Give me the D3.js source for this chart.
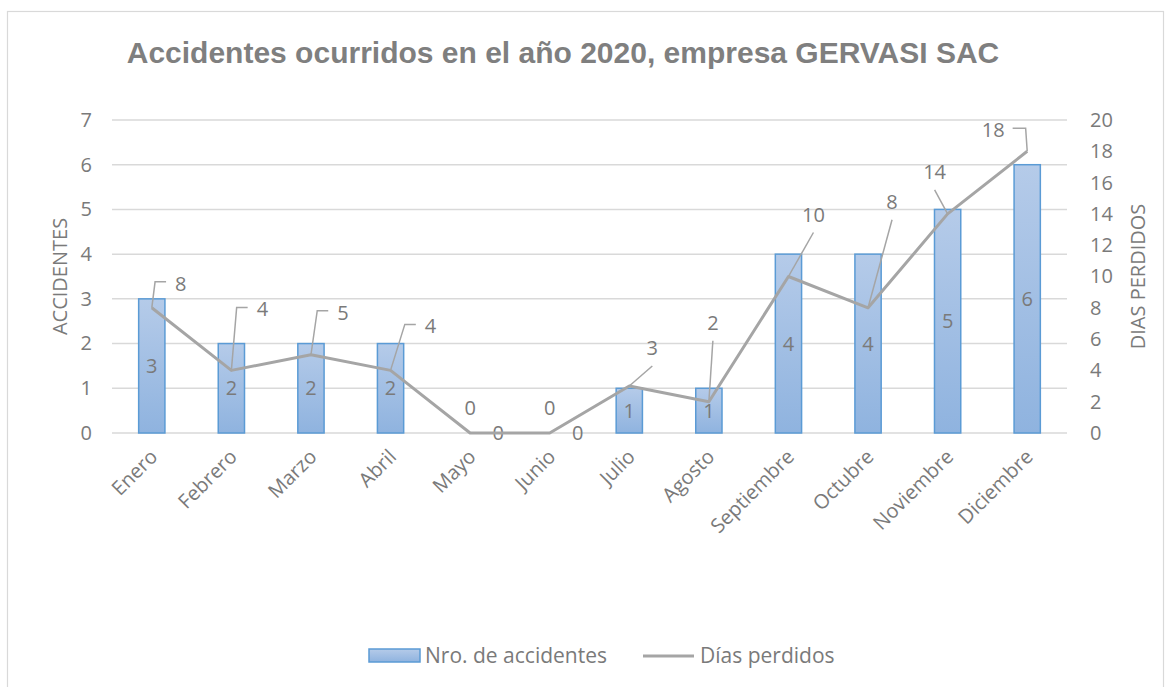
<!DOCTYPE html>
<html>
<head>
<meta charset="utf-8">
<script src="https://cdn.jsdelivr.net/npm/d3@7"></script>
<style>
  html, body { margin: 0; padding: 0; background: #fff; }
  svg { display: block; }
  text { font-family: "Open Sans", "Noto Sans", sans-serif; fill: #7a7a7a; }
</style>
</head>
<body>
<svg id="chart" width="1170" height="687"></svg>
<script>
// Monthly data
const months = ["Enero", "Febrero", "Marzo", "Abril", "Mayo", "Junio", "Julio",
                "Agosto", "Septiembre", "Octubre", "Noviembre", "Diciembre"];
const accidentes = [3, 2, 2, 2, 0, 0, 1, 1, 4, 4, 5, 6];
const diasPerdidos = [8, 4, 5, 4, 0, 0, 3, 2, 10, 8, 14, 18];
const leftTicks = [0, 1, 2, 3, 4, 5, 6, 7];
const rightTicks = [0, 2, 4, 6, 8, 10, 12, 14, 16, 18, 20];

// Data-label placement for the line series (offset from point, leader style)
const diasLabelOffset = [[29, -24], [31, -61], [32, -42], [40, -44], [0, -25], [0, -25],
                         [23, -38], [4, -79], [25, -62], [24, -106], [-13, -42], [-34, -21]];
const diasLeader = ["elbowLeft", "elbowLeft", "elbowLeft", "elbowLeft", "none", "none",
                    "straight", "straight", "straight", "straight", "straight", "elbowRight"];
// Bar labels for zero-height bars sit beside the line label
const barZeroShift = 28;

const FS = "20px";
const svg = d3.select("#chart");
const plot = { left: 112, right: 1067, top: 120, bottom: 433 };

// Chart frame
svg.append("rect")
  .attr("x", 7.5).attr("y", 11.5).attr("width", 1156).attr("height", 690)
  .attr("fill", "#fff").attr("stroke", "#d9d9d9").attr("stroke-width", 1.2);

// Gradient for bars
const defs = svg.append("defs");
const grad = defs.append("linearGradient").attr("id", "barGrad")
  .attr("x1", 0).attr("y1", 0).attr("x2", 0).attr("y2", 1);
grad.append("stop").attr("offset", "0%").attr("stop-color", "#b5cbe9");
grad.append("stop").attr("offset", "100%").attr("stop-color", "#8fb3df");

// Scales
const x = d3.scaleBand().domain(months).range([plot.left, plot.right])
  .paddingInner(0.67).paddingOuter(0.335);
const yL = d3.scaleLinear().domain([0, 7]).range([plot.bottom, plot.top]);
const yR = d3.scaleLinear().domain([0, 20]).range([plot.bottom, plot.top]);
const cx = m => x(m) + x.bandwidth() / 2;

// Title
svg.append("text")
  .attr("x", 563).attr("y", 63)
  .attr("text-anchor", "middle")
  .style("font-family", "'Liberation Sans', Arial, sans-serif")
  .style("font-weight", "bold")
  .style("font-size", "30px")
  .style("fill", "#7f7f7f")
  .text("Accidentes ocurridos en el año 2020, empresa GERVASI SAC");

// Gridlines
svg.append("g").selectAll("line").data(leftTicks).join("line")
  .attr("x1", plot.left).attr("x2", plot.right)
  .attr("y1", d => yL(d)).attr("y2", d => yL(d))
  .attr("stroke", "#d9d9d9").attr("stroke-width", 1.5);

// Left axis
const leftAxis = svg.append("g")
  .attr("transform", `translate(${plot.left - 20},0)`)
  .call(d3.axisLeft(yL).tickValues(leftTicks).tickSize(0).tickPadding(0).tickFormat(d3.format("d")));
leftAxis.select(".domain").remove();
leftAxis.selectAll("text").style("font-size", FS).style("fill", "#7a7a7a")
  .style("font-family", "'Open Sans', sans-serif");

// Right axis
const rightAxis = svg.append("g")
  .attr("transform", `translate(${plot.right + 23},0)`)
  .call(d3.axisRight(yR).tickValues(rightTicks).tickSize(0).tickPadding(0).tickFormat(d3.format("d")));
rightAxis.select(".domain").remove();
rightAxis.selectAll("text").style("font-size", FS).style("fill", "#7a7a7a")
  .style("font-family", "'Open Sans', sans-serif");

// Axis titles
svg.append("text")
  .attr("transform", `translate(67,${(plot.top + plot.bottom) / 2}) rotate(-90)`)
  .attr("text-anchor", "middle")
  .style("font-size", FS)
  .text("ACCIDENTES");
svg.append("text")
  .attr("transform", `translate(1145,${(plot.top + plot.bottom) / 2}) rotate(-90)`)
  .attr("text-anchor", "middle")
  .style("font-size", FS)
  .text("DIAS PERDIDOS");

// X axis labels (rotated)
svg.append("g").selectAll("text").data(months).join("text")
  .attr("transform", d => `translate(${cx(d) + 7},${plot.bottom + 25}) rotate(-45)`)
  .attr("text-anchor", "end")
  .style("font-size", FS)
  .text(d => d);

// Bars
svg.append("g").selectAll("rect").data(accidentes).join("rect")
  .attr("x", (d, i) => x(months[i]))
  .attr("y", d => yL(d))
  .attr("width", x.bandwidth())
  .attr("height", d => yL(0) - yL(d))
  .attr("fill", "url(#barGrad)")
  .attr("stroke", "#5b9bd5").attr("stroke-width", 1.5)
  .attr("display", d => d === 0 ? "none" : null);

// Bar value labels (centered in bar)
svg.append("g").selectAll("text").data(accidentes).join("text")
  .attr("x", (d, i) => cx(months[i]) + (d === 0 ? barZeroShift : 0))
  .attr("y", d => (yL(d) + yL(0)) / 2)
  .attr("dy", "0.35em")
  .attr("text-anchor", "middle")
  .style("font-size", FS)
  .text(d => d);

// Line series
const linePts = diasPerdidos.map((d, i) => [cx(months[i]), yR(d)]);
svg.append("path")
  .attr("d", d3.line()(linePts))
  .attr("fill", "none")
  .attr("stroke", "#a5a5a5").attr("stroke-width", 3)
  .attr("stroke-linejoin", "round");

// Line labels with leader lines
const lblG = svg.append("g");
diasPerdidos.forEach((d, i) => {
  const [px, py] = linePts[i];
  const lx = px + diasLabelOffset[i][0], ly = py + diasLabelOffset[i][1];
  const t = lblG.append("text")
    .attr("x", lx).attr("y", ly).attr("dy", "0.35em")
    .attr("text-anchor", "middle")
    .style("font-size", FS)
    .text(d);
  const bb = t.node().getBBox();
  let pts = null;
  if (diasLeader[i] === "elbowLeft") {
    const hy = ly - 2;
    pts = [[px, py], [bb.x - 20, hy], [bb.x - 9, hy]];
  } else if (diasLeader[i] === "elbowRight") {
    const hy = ly - 2;
    pts = [[bb.x + bb.width + 8, hy], [bb.x + bb.width + 21, hy], [px, py]];
  } else if (diasLeader[i] === "straight") {
    pts = [[lx, ly + 18], [px, py]];
  }
  if (pts) {
    lblG.insert("path", "text")
      .attr("d", d3.line()(pts))
      .attr("fill", "none")
      .attr("stroke", "#a5a5a5").attr("stroke-width", 1.5);
  }
});

// Legend
const lg = svg.append("g");
lg.append("rect").attr("x", 369).attr("y", 649).attr("width", 51).attr("height", 13)
  .attr("fill", "url(#barGrad)").attr("stroke", "#5b9bd5").attr("stroke-width", 1.5);
lg.append("text").attr("x", 425).attr("y", 656).attr("dy", "0.35em")
  .style("font-size", "21px").text("Nro. de accidentes");
lg.append("line").attr("x1", 643).attr("x2", 694).attr("y1", 656).attr("y2", 656)
  .attr("stroke", "#a5a5a5").attr("stroke-width", 3);
lg.append("text").attr("x", 700).attr("y", 656).attr("dy", "0.35em")
  .style("font-size", "21px").text("Días perdidos");
</script>
</body>
</html>
